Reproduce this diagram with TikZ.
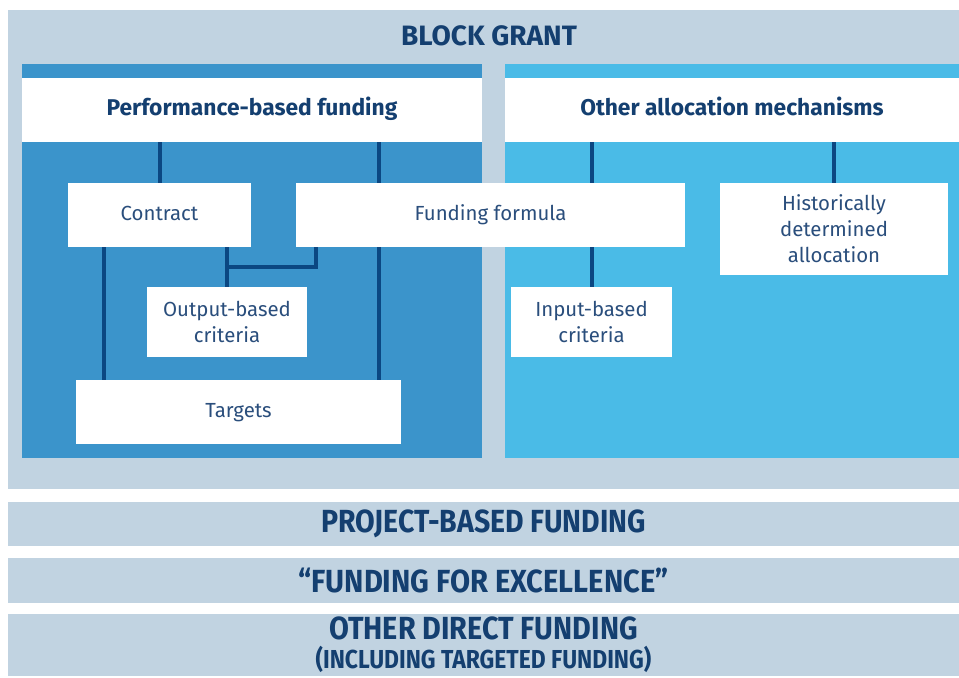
\documentclass[tikz,border=0pt]{standalone}
\usepackage{fontspec}
\setmainfont{Fira Sans}
\usetikzlibrary{calc}

\definecolor{grantbg}{HTML}{C1D3E1}
\definecolor{perfblue}{HTML}{3B94CB}
\definecolor{otherblue}{HTML}{4ABBE7}
\definecolor{linknavy}{HTML}{0B4782}
\definecolor{headnavy}{HTML}{143F70}
\definecolor{boxtext}{HTML}{2A4E7C}

\pgfdeclarelayer{panels}
\pgfdeclarelayer{links}
\pgfsetlayers{panels,links,main}

\newcommand{\barfont}[1]{\fontsize{#1}{#1}\selectfont\bfseries}

\begin{document}
\begin{tikzpicture}[x=0.5pt,y=-0.5pt,
	box/.style={fill=white, inner sep=0pt, align=center, text=boxtext,
		font=\fontsize{10.2}{13}\selectfont},
	header/.style={fill=white, inner sep=0pt, text=headnavy,
		font=\fontsize{11.4}{13}\selectfont\bfseries,
		text height=0.75em, text depth=0.25em, minimum height=32pt},
	fundbar/.style={fill=grantbg, inner sep=0pt, align=center, text=headnavy,
		minimum width=475.5pt},
	link/.style={draw=linknavy, line width=2pt}]
	\useasboundingbox (0,0) rectangle (959,677);

	% Block grant background and its two panels
	\begin{pgfonlayer}{panels}
		\fill[grantbg] (8,10) rectangle (959,489);
		\fill[perfblue] (22,64) rectangle (482,458);
		\fill[otherblue] (505,64) rectangle (959,458);
	\end{pgfonlayer}
	\node[text=headnavy, font=\fontsize{14}{16}\selectfont\bfseries] (grant) at (489,36) {BLOCK GRANT};

	% Panel headers
	\node[header, minimum width=230pt] (perf) at (252,110) {Performance-based funding};
	\node[header, minimum width=227pt] (other) at (732,110) {Other allocation mechanisms};

	% Boxes
	\node[box, text height=0.75em, text depth=0.25em, minimum width=91.5pt, minimum height=32pt] (contract) at (159.5,215) {Contract};
	\node[box, text height=0.75em, text depth=0.25em, minimum width=194.5pt, minimum height=32pt] (formula) at (490.5,215) {Funding formula};
	\node[box, minimum width=114pt, minimum height=46pt] (hist) at (834,229) {Historically\\determined\\allocation};
	\node[box, minimum width=80pt, minimum height=35pt] (output) at (227,322) {Output-based\\criteria};
	\node[box, minimum width=80.5pt, minimum height=35pt] (input) at (591.5,322) {Input-based\\criteria};
	\node[box, text height=0.75em, text depth=0.25em, minimum width=162.5pt, minimum height=32pt] (targets) at (238.5,412) {Targets};

	% Connectors
	\coordinate (tgtright) at ([xshift=-11pt]targets.north east);
	\coordinate (conleft) at ([xshift=18pt]contract.south west);
	\coordinate (formleft) at ([xshift=10pt]formula.south west);
	\begin{pgfonlayer}{links}
		\draw[link] (perf.south -| contract.north) -- (contract.north);
		\draw[link] (perf.south -| tgtright) -- (tgtright);
		\draw[link] (conleft) -- (conleft |- targets.north);
		\draw[link] (output.north |- contract.south) -- (output.north);
		\draw[link] (formleft) |- ($(output.north)!.5!(output.north |- contract.south)$);
		\draw[link] (other.south -| input.north) -- (input.north);
		\draw[link] (other.south -| hist.north) -- (hist.north);
	\end{pgfonlayer}

	% Other funding streams
	\node[fundbar, minimum height=22pt, font=\barfont{16}] (project) at (483.5,524)
		{\scalebox{0.89}[1]{PROJECT-BASED FUNDING}};
	\node[fundbar, minimum height=22.5pt, font=\barfont{16}] (excel) at (483.5,580.5)
		{\scalebox{0.91}[1]{“FUNDING FOR EXCELLENCE”}};
	\node[fundbar, minimum height=31pt, font=\barfont{16}] (direct) at (483.5,645)
		{\scalebox{0.9}[1]{OTHER DIRECT FUNDING}\\[-1.5pt]
		{\fontsize{13}{13}\selectfont\scalebox{0.88}[1]{(INCLUDING TARGETED FUNDING)}}};
\end{tikzpicture}
\end{document}
